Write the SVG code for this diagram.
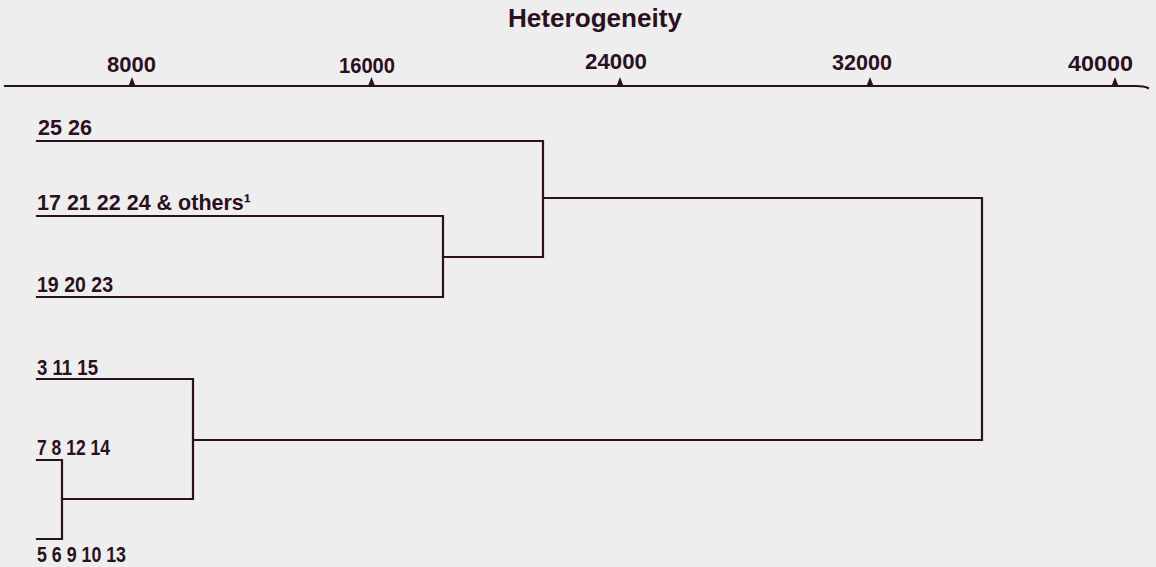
<svg xmlns="http://www.w3.org/2000/svg" width="1156" height="567" viewBox="0 0 1156 567">
  <style>
    .ink { stroke: #2a1020; stroke-width: 2.2; fill: none; stroke-linecap: square; }
    .tick { fill: #2a1020; }
    .lbl { font-family: "Liberation Sans", Arial, sans-serif; font-size: 22px; font-weight: bold; fill: #2a1020; }
    .num { font-family: "Liberation Sans", Arial, sans-serif; font-size: 22px; font-weight: bold; fill: #2a1020; }
    .title { font-family: "Liberation Sans", Arial, sans-serif; font-size: 25px; font-weight: bold; fill: #2a1020; }
  </style>
  <rect width="1156" height="567" fill="#eeeeef"/>

  <!-- scale axis -->
  <g id="axis">
    <text class="title" x="508" y="27" textLength="174" lengthAdjust="spacingAndGlyphs">Heterogeneity</text>
    <path class="ink" d="M5 86 L1136 86 Q1144 86 1148 88"/>
    <polygon class="tick" points="128.5,86 132,77 135.5,86"/>
    <polygon class="tick" points="368,86 371.5,77 375,86"/>
    <polygon class="tick" points="616.5,86 620,77 623.5,86"/>
    <polygon class="tick" points="866.5,86 870,77 873.5,86"/>
    <polygon class="tick" points="1111.5,86 1115,77 1118.5,86"/>
    <text class="num" x="107" y="72" textLength="49" lengthAdjust="spacingAndGlyphs">8000</text>
    <text class="num" x="339" y="73" textLength="56" lengthAdjust="spacingAndGlyphs">16000</text>
    <text class="num" x="585" y="69" textLength="62" lengthAdjust="spacingAndGlyphs">24000</text>
    <text class="num" x="832" y="70" textLength="60" lengthAdjust="spacingAndGlyphs">32000</text>
    <text class="num" x="1068" y="71" textLength="65" lengthAdjust="spacingAndGlyphs">40000</text>
  </g>

  <!-- leaf groups -->
  <g id="leaf-25-26">
    <text class="lbl" x="38" y="135" textLength="54" lengthAdjust="spacingAndGlyphs">25 26</text>
  </g>
  <g id="leaf-17-others">
    <text class="lbl" x="37" y="210" textLength="214" lengthAdjust="spacingAndGlyphs">17 21 22 24 &amp; others¹</text>
  </g>
  <g id="leaf-19-20-23">
    <text class="lbl" x="37" y="292" textLength="76" lengthAdjust="spacingAndGlyphs">19 20 23</text>
  </g>
  <g id="leaf-3-11-15">
    <text class="lbl" x="37" y="375" textLength="61" lengthAdjust="spacingAndGlyphs">3 11 15</text>
  </g>
  <g id="leaf-7-8-12-14">
    <text class="lbl" x="37" y="455" textLength="73" lengthAdjust="spacingAndGlyphs">7 8 12 14</text>
  </g>
  <g id="leaf-5-6-9-10-13">
    <text class="lbl" x="37" y="562" textLength="89" lengthAdjust="spacingAndGlyphs">5 6 9 10 13</text>
  </g>

  <!-- dendrogram links -->
  <g id="connectors">
    <path class="ink" d="M37 141 H543 V257 H443"/>
    <path class="ink" d="M37 216 H443 V297 H37"/>
    <path class="ink" d="M543 198 H982 V440 H193"/>
    <path class="ink" d="M37 379 H193 V499 H62"/>
    <path class="ink" d="M37 460 H62 V539 H37"/>
  </g>
</svg>
